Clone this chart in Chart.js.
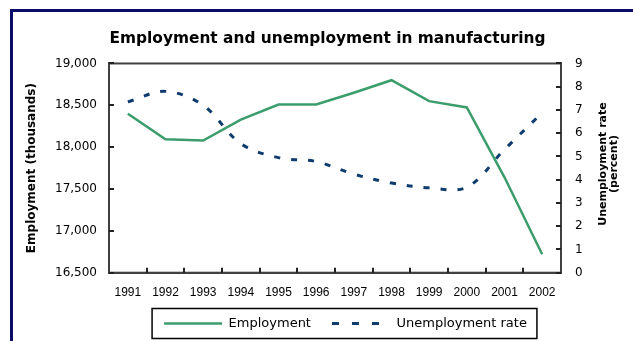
<!DOCTYPE html>
<html>
<head>
<meta charset="utf-8">
<script src="https://cdn.jsdelivr.net/npm/chart.js@4.4.1/dist/chart.umd.min.js"></script>
<style>
  html, body { margin: 0; padding: 0; background: #fff; }
  #wrap { position: relative; width: 633px; height: 341px; overflow: hidden; }
  #frame { position: absolute; left: 10px; top: 9px; width: 640px; height: 340px;
           border-left: 3px solid #0b0b68; border-top: 3px solid #0b0b68; pointer-events: none; }
</style>
</head>
<body>
<div id="wrap">
  <canvas id="chart" width="633" height="341"></canvas>
  <div id="frame"></div>
</div>
<script>
// данные
const years = ['1991', '1992', '1993', '1994', '1995', '1996', '1997', '1998', '1999', '2000', '2001', '2002'];
const employment = [18400, 18095, 18080, 18330, 18510, 18510, 18650, 18800, 18550, 18475, 17640, 16720];
const unemploymentRate = [7.35, 7.8, 7.2, 5.55, 4.95, 4.78, 4.24, 3.86, 3.65, 3.68, 5.3, 6.88];
const employmentTicks = ['16,500', '17,000', '17,500', '18,000', '18,500', '19,000'];
const rateTicks = ['0', '1', '2', '3', '4', '5', '6', '7', '8', '9'];

const GREEN = '#3b9d6b';
const NAVY = '#0f3c6e';
const AXIS = '#404040';

// рамка графика, засечки внутрь, рамка легенды, подпись правой оси
const extras = {
  id: 'extras',
  afterLayout(chart) {
    const lg = chart.legend;
    lg.left += 29; lg.right += 29;
    const dy = 296 - lg.top;
    lg.top += dy; lg.bottom += dy;
    const t = chart.titleBlock;
    t.left += 11; t.right += 11;
  },
  afterDraw(chart) {
    const ctx = chart.ctx;
    const a = chart.chartArea;
    const line = (x1, y1, x2, y2) => { ctx.beginPath(); ctx.moveTo(x1, y1); ctx.lineTo(x2, y2); ctx.stroke(); };
    ctx.save();
    ctx.strokeStyle = AXIS;
    ctx.lineWidth = 2;
    ctx.strokeRect(a.left, a.top, a.right - a.left, a.bottom - a.top);

    // засечки
    ctx.strokeStyle = '#222';
    ctx.lineWidth = 2;
    const xs = chart.scales.x;
    for (let i = 1; i < years.length; i++) {
      const px = Math.round((xs.getPixelForValue(i - 1) + xs.getPixelForValue(i)) / 2);
      line(px, a.bottom, px, a.bottom - 5);
    }
    const ys = chart.scales.y;
    ys.ticks.forEach(t => { const py = Math.round(ys.getPixelForValue(t.value)); line(a.left, py, a.left + 5, py); });
    const rs = chart.scales.y1;
    rs.ticks.forEach(t => { const py = Math.round(rs.getPixelForValue(t.value)); line(a.right, py, a.right - 5, py); });

    const hb = chart.legend.legendHitBoxes;
    const first = hb[0], last = hb[hb.length - 1];
    const x0 = first.left - 12, x1 = last.left + last.width + 10;
    const cy = first.top + first.height / 2;
    ctx.strokeStyle = '#000';
    ctx.lineWidth = 1.5;
    ctx.strokeRect(x0, cy - 15, x1 - x0, 30);

    ctx.fillStyle = '#000';
    ctx.font = 'bold 11px "DejaVu Sans"';
    ctx.textAlign = 'center';
    ctx.textBaseline = 'middle';
    ctx.translate(603, 164);
    ctx.rotate(-Math.PI / 2);
    ctx.fillText('Unemployment rate', 0, 0);
    ctx.fillText('(percent)', 0, 11);
    ctx.restore();
  }
};

const tickFont = { family: 'DejaVu Sans', size: 12 };

new Chart(document.getElementById('chart'), {
  type: 'line',
  data: {
    labels: years,
    datasets: [
      {
        label: 'Employment',
        data: employment,
        yAxisID: 'y',
        borderColor: GREEN,
        borderWidth: 2.5,
        pointRadius: 0,
        tension: 0,
        fill: false
      },
      {
        label: 'Unemployment rate',
        data: unemploymentRate,
        yAxisID: 'y1',
        borderColor: NAVY,
        borderWidth: 3,
        borderDash: [6, 11],
        pointRadius: 0,
        tension: 0.35,
        fill: false
      }
    ]
  },
  options: {
    responsive: false,
    animation: false,
    devicePixelRatio: 1,
    layout: { padding: 0 },
    plugins: {
      title: {
        display: true,
        text: 'Employment and unemployment in manufacturing',
        color: '#000',
        font: { family: 'DejaVu Sans', size: 15.4, weight: 'bold' },
        padding: { top: 30, bottom: 15 }
      },
      legend: {
        position: 'bottom',
        labels: {
          usePointStyle: true,
          pointStyle: 'line',
          pointStyleWidth: 58,
          padding: 21,
          color: '#000',
          font: { family: 'DejaVu Sans', size: 13 },
          generateLabels(chart) {
            const items = Chart.defaults.plugins.legend.labels.generateLabels(chart);
            items.forEach((it, i) => {
              const ds = chart.data.datasets[i];
              it.pointStyle = 'line';
              it.strokeStyle = ds.borderColor;
              it.lineWidth = ds.borderWidth;
              it.lineDash = ds.borderDash ? [7, 13] : [];
            });
            return items;
          }
        }
      },
      tooltip: { enabled: false }
    },
    scales: {
      x: {
        offset: true,
        ticks: { padding: 13, color: '#000', font: { family: 'Liberation Sans', size: 12 }, maxRotation: 0, autoSkip: false },
        grid: { drawOnChartArea: false, drawTicks: false, offset: true },
        border: { color: AXIS, width: 2 },
        afterFit(s) { s.height = 24.3; }
      },
      y: {
        position: 'left',
        min: 16500,
        max: 19000,
        ticks: { stepSize: 500, padding: 12, color: '#000', font: tickFont, callback: (v, i) => employmentTicks[i] },
        grid: { drawOnChartArea: false, drawTicks: false },
        border: { color: AXIS, width: 2 },
        title: {
          display: true,
          text: 'Employment (thousands)',
          color: '#000',
          font: { family: 'DejaVu Sans', size: 12, weight: 'bold' },
          padding: { top: 25, bottom: 0 }
        },
        afterFit(s) { s.width = 109; }
      },
      y1: {
        position: 'right',
        min: 0,
        max: 9,
        ticks: { stepSize: 1, padding: 14, color: '#000', font: tickFont, callback: (v, i) => rateTicks[i] },
        grid: { drawOnChartArea: false, drawTicks: false },
        border: { color: AXIS, width: 2 },
        afterFit(s) { s.width = 72; }
      }
    }
  },
  plugins: [extras]
});
</script>
</body>
</html>
